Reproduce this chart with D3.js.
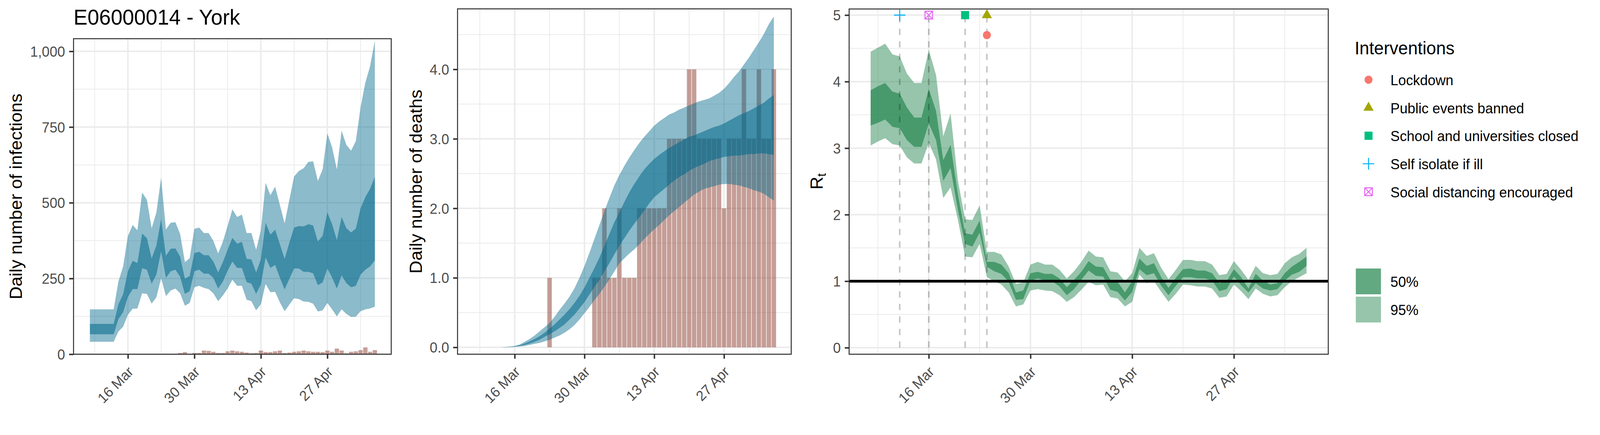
<!DOCTYPE html>
<html>
<head>
<meta charset="utf-8">
<script src="https://cdnjs.cloudflare.com/ajax/libs/d3/7.8.5/d3.min.js"></script>
<style>
  html, body { margin: 0; padding: 0; background: #fff; overflow: hidden; }
  text { font-family: "Liberation Sans", Arial, sans-serif; }
</style>
</head>
<body>
<div id="chart"></div>
<script>
// daily series
var infHi95 = [148,148,148,148,148,148,240,290,390,427,409,534,510,416,468,583,412,434,436,397,304,317,414,418,
  400,400,374,333,372,424,478,453,461,400,400,345,409,566,525,553,493,432,510,587,605,614,635,637,572,610,729,683,610,738,
  691,672,704,816,897,951,1036];
var infHi50 = [100,100,100,100,100,100,165,198,274,308,301,398,383,316,359,446,325,348,349,322,249,258,334,338,
  327,327,306,270,304,345,384,365,371,315,313,270,313,434,395,411,363,315,368,418,423,422,429,425,372,391,468,429,377,453,
  416,402,415,482,519,546,586];
var infLo50 = [66,66,66,66,66,66,116,139,189,215,215,284,279,233,263,340,252,274,279,256,199,208,274,279,
  266,266,252,217,240,276,306,285,285,238,233,199,231,319,285,295,253,214,249,283,283,272,272,267,228,237,283,253,217,260,
  235,221,226,263,279,290,310];
var infLo95 = [41,41,41,41,41,41,75,91,130,150,151,201,199,167,188,251,192,210,217,201,160,169,221,226,
  219,215,201,175,194,217,246,226,226,180,175,145,165,232,205,206,171,142,164,185,182,174,173,167,141,145,169,148,125,148,
  133,123,124,142,148,151,157];
var caseBars = [4,7,0,4,4,12,11,8,4,4,9.5,12,9.5,8,5.5,3,4,12,7,7,9.5,12,4,5.5,8,9.5,12,9.5,8,8,7,12,8,18.5,12,3,8,9.5,13.5,22.5,8,13.5];

var deathHi95 = [0,.005,.01,.02,.04,.08,.12,.17,.23,.29,.35,.44,.54,.63,.73,.85,1,1.17,1.36,
  1.56,1.76,1.96,2.15,2.33,2.48,2.61,2.73,2.84,2.94,3.03,3.11,3.19,3.25,3.3,3.35,3.38,3.42,3.45,3.48,3.51,3.54,3.56,3.58,3.62,3.66,3.72,3.8,3.89,3.97,
  4.07,4.17,4.28,4.39,4.51,4.65,4.76];
var deathHi50 = [0,.003,.008,.016,.03,.055,.085,.12,.16,.21,.27,.33,.4,.47,.55,.64,.74,.86,1,
  1.14,1.29,1.46,1.63,1.8,1.94,2.09,2.23,2.35,2.46,2.56,2.64,2.71,2.77,2.82,2.87,2.91,2.95,2.99,3.03,3.05,3.08,3.11,3.14,3.17,3.19,3.22,3.26,3.3,3.34,
  3.37,3.4,3.44,3.48,3.52,3.58,3.63];
var deathLo50 = [0,.002,.005,.01,.02,.035,.055,.08,.11,.15,.19,.23,.28,.33,.4,.47,.56,.65,.76,
  .87,.97,1.09,1.21,1.34,1.46,1.57,1.68,1.78,1.87,1.97,2.07,2.16,2.22,2.28,2.34,2.4,2.45,2.49,2.54,2.58,2.61,2.64,2.68,2.7,2.72,2.74,2.75,2.76,2.76,
  2.77,2.78,2.78,2.79,2.79,2.78,2.77];
var deathLo95 = [0,.001,.003,.008,.012,.02,.035,.05,.065,.085,.11,.14,.17,.21,.26,.32,.4,.49,.58,
  .68,.77,.87,.98,1.09,1.21,1.28,1.35,1.41,1.48,1.56,1.63,1.7,1.76,1.83,1.9,1.96,2.02,2.08,2.14,2.2,2.24,2.28,2.3,2.32,2.34,2.35,2.35,2.34,2.33,
  2.31,2.29,2.26,2.24,2.21,2.16,2.11];
var deathBarEarly = [1];
var deathBars = [1,1,2,1,1,2,1,1,1,2,2,2,2,2,2,3,3,3,3,4,4,3,3,3,3,3,2,3,3,3,4,3,3,4,3,3,4];

var rtHi95 = [4.45,4.51,4.57,4.41,4.38,4.12,3.98,3.98,4.48,4.1,3.18,3.52,2.52,1.93,1.92,2.14,1.44,1.44,1.4,1.22,.96,.98,1.25,1.29,
  1.25,1.25,1.17,1.04,1.15,1.29,1.46,1.37,1.36,1.15,1.13,1,1.12,1.5,1.38,1.42,1.2,1.03,1.17,1.32,1.32,1.3,1.3,1.25,1.09,1.11,1.3,1.17,1.02,1.23,
  1.12,1.09,1.11,1.27,1.36,1.41,1.5];
var rtHi50 = [3.87,3.93,3.98,3.85,3.82,3.61,3.46,3.46,3.89,3.56,2.82,3.05,2.31,1.72,1.7,1.91,1.29,1.29,1.25,1.12,.83,.86,1.12,1.14,
  1.11,1.11,1.04,.91,1.02,1.14,1.3,1.22,1.21,1.02,.99,.83,1,1.34,1.23,1.27,1.06,.9,1.05,1.18,1.19,1.16,1.16,1.12,.97,1,1.18,1.06,.89,1.11,
  1.01,.95,.97,1.12,1.22,1.29,1.37];
var rtLo50 = [3.34,3.38,3.43,3.32,3.3,3.12,3.02,3.02,3.37,3.12,2.51,2.7,2.08,1.56,1.52,1.73,1.22,1.15,1.11,.99,.72,.73,1.01,1.04,
  1.01,1,.92,.79,.88,1.02,1.16,1.08,1.07,.87,.84,.71,.84,1.18,1.09,1.12,.93,.79,.93,1.06,1.06,1.04,1.04,1.01,.85,.88,1.07,.94,.83,.97,
  .89,.86,.88,1.01,1.1,1.14,1.23];
var rtLo95 = [3.04,3.1,3.15,3.06,3.04,2.86,2.77,2.77,3.08,2.83,2.25,2.41,1.93,1.37,1.36,1.56,1.06,1,.95,.83,.62,.65,.86,.88,
  .86,.85,.79,.69,.76,.87,.99,.94,.95,.76,.74,.62,.69,1.1,.97,1,.84,.69,.81,.95,.94,.92,.92,.89,.75,.77,.95,.85,.73,.89,
  .81,.77,.79,.91,1,1.06,1.12];

var xTickDates = ["2020-03-16", "2020-03-30", "2020-04-13", "2020-04-27"];
var xMinorDates = ["2020-03-09", "2020-03-23", "2020-04-06", "2020-04-20", "2020-05-04"];
var infTicks = [0, 250, 500, 750, 1000];
var infMinor = [125, 375, 625, 875];
var deathTicks = [0, 1, 2, 3, 4];
var deathMinor = [.5, 1.5, 2.5, 3.5, 4.5];
var rtTicks = [0, 1, 2, 3, 4, 5];
var rtMinor = [.5, 1.5, 2.5, 3.5, 4.5];

var interventionNames = ["Lockdown", "Public events banned", "School and universities closed", "Self isolate if ill", "Social distancing encouraged"];
var interventionDates = ["2020-03-24", "2020-03-24", "2020-03-21", "2020-03-12", "2020-03-16"];
var interventionLevels = [4.7, 5, 5, 5, 5];
var ribbonNames = ["50%", "95%"];

var DAY = 86400000;
var BLUE = "#00688B";
var GREEN = "#2E8B57";
var CORAL = "#8B3E2F";
var GRID = "#EBEBEB";
var DARK = "#333333";
var MARKER_COLORS = ["#F8766D", "#A3A500", "#00BF7D", "#00B0F6", "#E76BF3"];

// the window can come out narrower than asked, so fit the drawing to it
var svg = d3.select("#chart").append("svg")
  .attr("viewBox", "0 0 4200 1113")
  .attr("preserveAspectRatio", "none")
  .style("width", "100vw")
  .style("height", "100vh")
  .style("display", "block");

var parse = function(s) { return new Date(s + "T00:00:00Z"); };

var daysFrom = function(start, n) {
  return d3.range(n).map(function(i) { return new Date(parse(start).getTime() + i * DAY); });
};

var ribbon = function(g, x, y, dates, lo, hi, color, alpha) {
  var area = d3.area()
    .x(function(d) { return x(d); })
    .y0(function(d, i) { return y(lo[i]); })
    .y1(function(d, i) { return y(hi[i]); });
  g.append("path")
    .attr("d", area(dates))
    .attr("fill", color)
    .attr("fill-opacity", alpha);
};

var bars = function(g, x, y, dates, values) {
  var w = x(new Date(DAY)) - x(new Date(0));
  values.forEach(function(v, i) {
    if (v <= 0) return;
    g.append("rect")
      .attr("x", x(dates[i]) - w * 0.45)
      .attr("width", w * 0.9)
      .attr("y", y(v))
      .attr("height", y(0) - y(v))
      .attr("fill", CORAL)
      .attr("fill-opacity", 0.5);
  });
};

// panel background, grid and axes; returns the scales and a group for the marks
var makePanel = function(box, beforeDays, afterDays, yDomain, yTicks, yMinor, yFormat, title) {
  var x = d3.scaleUtc()
    .domain([parse("2020-03-16").getTime() - beforeDays * DAY, parse("2020-04-27").getTime() + afterDays * DAY])
    .range([box.left, box.right]);
  var y = d3.scaleLinear().domain(yDomain).range([box.bottom, box.top]);

  var grid = svg.append("g");
  var hline = function(v, w) {
    grid.append("line").attr("x1", box.left).attr("x2", box.right)
      .attr("y1", y(v)).attr("y2", y(v)).attr("stroke", GRID).attr("stroke-width", w);
  };
  var vline = function(s, w) {
    grid.append("line").attr("y1", box.top).attr("y2", box.bottom)
      .attr("x1", x(parse(s))).attr("x2", x(parse(s))).attr("stroke", GRID).attr("stroke-width", w);
  };
  yMinor.forEach(function(v) { hline(v, 2); });
  xMinorDates.forEach(function(s) { vline(s, 2); });
  yTicks.forEach(function(v) { hline(v, 3.8); });
  xTickDates.forEach(function(s) { vline(s, 3.8); });

  var marks = svg.append("g");

  var top = svg.append("g");
  top.append("rect")
    .attr("x", box.left).attr("y", box.top)
    .attr("width", box.right - box.left).attr("height", box.bottom - box.top)
    .attr("fill", "none").attr("stroke", DARK).attr("stroke-width", 2.6);

  var xAxis = top.append("g")
    .attr("transform", "translate(0," + box.bottom + ")")
    .call(d3.axisBottom(x)
      .tickValues(xTickDates.map(parse))
      .tickFormat(d3.utcFormat("%d %b"))
      .tickSize(11.5));
  xAxis.select(".domain").remove();
  xAxis.selectAll(".tick line").attr("stroke", DARK).attr("stroke-width", 3.8);
  xAxis.selectAll(".tick text")
    .attr("x", 16).attr("y", 47).attr("dy", 0)
    .attr("transform", function() { return "rotate(-45 16 47)"; })
    .attr("text-anchor", "end")
    .attr("fill", "#4D4D4D")
    .style("font-size", "36.7px");

  var yAxis = top.append("g")
    .attr("transform", "translate(" + box.left + ",0)")
    .call(d3.axisLeft(y).tickValues(yTicks).tickFormat(yFormat).tickSize(11.5));
  yAxis.select(".domain").remove();
  yAxis.selectAll(".tick line").attr("stroke", DARK).attr("stroke-width", 3.8);
  yAxis.selectAll(".tick text")
    .attr("x", -22).attr("dy", 13)
    .attr("text-anchor", "end")
    .attr("fill", "#4D4D4D")
    .style("font-size", "36.7px");

  if (title) {
    svg.append("text")
      .attr("transform", "translate(" + title.x + "," + ((box.top + box.bottom) / 2) + ") rotate(-90)")
      .attr("text-anchor", "middle")
      .style("font-size", "45.8px")
      .attr("fill", "#000")
      .text(title.text);
  }

  return { x: x, y: y, marks: marks };
};

svg.append("text")
  .attr("x", 193).attr("y", 63)
  .style("font-size", "55px")
  .attr("fill", "#000")
  .text("E06000014 - York");

// infections
var p1 = makePanel({ left: 193, right: 1027, top: 99, bottom: 906.3 }, 11.45, 13.45, [0, 1041.7],
  infTicks, infMinor, d3.format(","), { x: 57.5, text: "Daily number of infections" });
var infDates = daysFrom("2020-03-08", infHi95.length);
bars(p1.marks, p1.x, p1.y, daysFrom("2020-03-27", caseBars.length), caseBars);
ribbon(p1.marks, p1.x, p1.y, infDates, infLo95, infHi95, BLUE, 0.45);
ribbon(p1.marks, p1.x, p1.y, infDates, infLo50, infHi50, BLUE, 0.55);

// deaths
var p2 = makePanel({ left: 1201, right: 2077, top: 22.7, bottom: 906.3 }, 11.47, 13.49, [-0.099, 4.87],
  deathTicks, deathMinor, d3.format(".1f"), { x: 1107.5, text: "Daily number of deaths" });
var deathDates = daysFrom("2020-03-13", deathHi95.length);
bars(p2.marks, p2.x, p2.y, daysFrom("2020-03-23", deathBarEarly.length), deathBarEarly);
bars(p2.marks, p2.x, p2.y, daysFrom("2020-04-01", deathBars.length), deathBars);
ribbon(p2.marks, p2.x, p2.y, deathDates, deathLo95, deathHi95, BLUE, 0.45);
ribbon(p2.marks, p2.x, p2.y, deathDates, deathLo50, deathHi50, BLUE, 0.55);

// Rt
var p3 = makePanel({ left: 2229, right: 3486.7, top: 23, bottom: 906.3 }, 10.96, 12.99, [-0.098, 5.092],
  rtTicks, rtMinor, d3.format("d"), null);
var rtDates = daysFrom("2020-03-08", rtHi95.length);
ribbon(p3.marks, p3.x, p3.y, rtDates, rtLo95, rtHi95, GREEN, 0.5);
ribbon(p3.marks, p3.x, p3.y, rtDates, rtLo50, rtHi50, GREEN, 0.75);

var rtLabel = svg.append("text")
  .attr("transform", "translate(2159,464) rotate(-90)")
  .attr("text-anchor", "middle")
  .style("font-size", "45.8px")
  .attr("fill", "#000");
rtLabel.append("tspan").text("R");
rtLabel.append("tspan").attr("dy", 9).style("font-size", "32px").text("t");

// dashed lines up to each intervention, one per date
d3.rollup(interventionDates.map(function(s, i) { return [s, interventionLevels[i]]; }),
  function(v) { return d3.max(v, function(d) { return d[1]; }); },
  function(d) { return d[0]; }).forEach(function(level, s) {
  p3.marks.append("line")
    .attr("x1", p3.x(parse(s))).attr("x2", p3.x(parse(s)))
    .attr("y1", p3.y(0)).attr("y2", p3.y(level))
    .attr("stroke", "#000")
    .attr("stroke-opacity", 0.23)
    .attr("stroke-width", 4)
    .attr("stroke-dasharray", "16 16");
});

p3.marks.append("line")
  .attr("x1", 2229).attr("x2", 3486.7)
  .attr("y1", p3.y(1)).attr("y2", p3.y(1))
  .attr("stroke", "#000")
  .attr("stroke-width", 7);

var drawMarker = function(g, i, cx, cy) {
  var color = MARKER_COLORS[i];
  var t = "translate(" + cx + "," + cy + ")";
  if (i == 0) {
    g.append("path").attr("transform", t).attr("fill", color)
      .attr("d", d3.symbol().type(d3.symbolCircle).size(346)());
  } else if (i == 1) {
    g.append("path").attr("transform", t).attr("fill", color)
      .attr("d", d3.symbol().type(d3.symbolTriangle).size(310)());
  } else if (i == 2) {
    g.append("path").attr("transform", t).attr("fill", color)
      .attr("d", d3.symbol().type(d3.symbolSquare).size(441)());
  } else if (i == 3) {
    g.append("path").attr("transform", t).attr("fill", "none")
      .attr("stroke", color).attr("stroke-width", 2.6)
      .attr("d", "M-15,0H15M0,-15V15");
  } else {
    g.append("path").attr("transform", t).attr("fill", "none")
      .attr("stroke", color).attr("stroke-width", 2.6)
      .attr("d", "M-10,-10H10V10H-10ZM-10,-10L10,10M-10,10L10,-10");
  }
};

interventionNames.forEach(function(name, i) {
  drawMarker(svg, i, p3.x(parse(interventionDates[i])), p3.y(interventionLevels[i]));
});

// legends
svg.append("text")
  .attr("x", 3556).attr("y", 139.4)
  .style("font-size", "45.8px")
  .attr("fill", "#000")
  .text("Interventions");

interventionNames.forEach(function(name, i) {
  var cy = 204 + i * 71.65;
  drawMarker(svg, i, 3592.4, cy);
  svg.append("text")
    .attr("x", 3650).attr("y", cy + 14)
    .style("font-size", "36.7px")
    .attr("fill", "#000")
    .text(name);
});

ribbonNames.forEach(function(name, i) {
  var top = 687 + i * 72;
  svg.append("rect")
    .attr("x", 3559).attr("y", top)
    .attr("width", 66).attr("height", 66)
    .attr("fill", GREEN)
    .attr("fill-opacity", i == 0 ? 0.75 : 0.5);
  svg.append("text")
    .attr("x", 3650).attr("y", top + 47.5)
    .style("font-size", "36.7px")
    .attr("fill", "#000")
    .text(name);
});
</script>
</body>
</html>
